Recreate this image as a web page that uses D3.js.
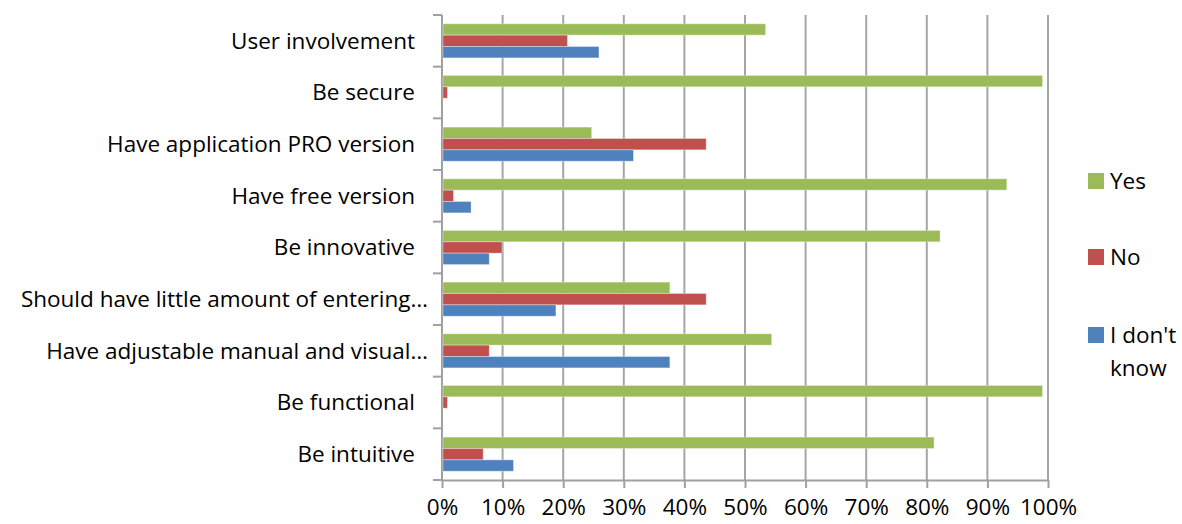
<!DOCTYPE html>
<html>
<head>
<meta charset="utf-8">
<script src="https://cdn.jsdelivr.net/npm/d3@7"></script>
<style>
  body { margin: 0; background: #fff; }
  text { font-family: "Open Sans", sans-serif; fill: #000; }
</style>
</head>
<body>
<div id="chart"></div>
<script>
// datos (top -> bottom)
const categories = [
  "User involvement",
  "Be secure",
  "Have application PRO version",
  "Have free version",
  "Be innovative",
  "Should have little amount of entering…",
  "Have adjustable manual and visual…",
  "Be functional",
  "Be intuitive"
]
const series = ["Yes", "No", "I don't know"]
const yes = [53.4, 99.1, 24.7, 93.2, 82.2, 37.6, 54.4, 99.1, 81.2]
const no = [20.7, 0.9, 43.6, 1.9, 9.9, 43.6, 7.8, 0.9, 6.8]
const dontKnow = [25.9, 0, 31.6, 4.8, 7.8, 18.8, 37.6, 0, 11.8]
const xTicks = [0, 10, 20, 30, 40, 50, 60, 70, 80, 90, 100]
const colors = ["#9bbb59", "#c0504d", "#4f81bd"]

const width = 1182
const height = 524
const margin = { top: 15, bottom: 44, left: 442, right: 134 }
const fontSize = 22.5

const svg = d3.select("#chart")
  .append("svg")
  .attr("width", width)
  .attr("height", height)

const innerW = width - margin.left - margin.right
const innerH = height - margin.top - margin.bottom

const elementGroup = svg.append("g")
  .attr("transform", `translate(${margin.left}, ${margin.top})`)

// Escalas
const x = d3.scaleLinear().domain([0, 100]).range([0, innerW])
const y0 = d3.scaleBand().domain(categories).range([0, innerH])
  .paddingInner(0.34).paddingOuter(0.17)
const y1 = d3.scaleBand().domain(series).range([0, y0.bandwidth()])

// gridlines
elementGroup.selectAll(".grid").data(xTicks.slice(1))
  .enter().append("line")
  .attr("x1", d => x(d)).attr("x2", d => x(d))
  .attr("y1", 0).attr("y2", innerH)
  .attr("stroke", "#a5a5a5").attr("stroke-width", 2)

// ejes
const xAxis = d3.axisBottom(x).tickValues(xTicks).tickFormat(d => d + "%")
  .tickSizeInner(8).tickSizeOuter(0).tickPadding(11)
const xAxisGroup = elementGroup.append("g")
  .attr("transform", `translate(0, ${innerH})`)
  .call(xAxis)
xAxisGroup.select(".domain").attr("stroke", "#a0a0a0").attr("stroke-width", 2)
xAxisGroup.selectAll(".tick line").attr("stroke", "#a0a0a0").attr("stroke-width", 2)
xAxisGroup.selectAll(".tick text").attr("font-size", fontSize).attr("font-family", "Open Sans")

// y axis: ticks at category boundaries
const step = y0.step()
const boundaries = d3.range(categories.length + 1).map(i => i * step)
elementGroup.append("line")
  .attr("x1", 0).attr("x2", 0).attr("y1", 0).attr("y2", innerH)
  .attr("stroke", "#a0a0a0").attr("stroke-width", 2)
elementGroup.selectAll(".ytick").data(boundaries)
  .enter().append("line")
  .attr("x1", -9).attr("x2", 0)
  .attr("y1", d => d).attr("y2", d => d)
  .attr("stroke", "#a0a0a0").attr("stroke-width", 2)

elementGroup.selectAll(".ylabel").data(categories)
  .enter().append("text")
  .attr("x", d => d.endsWith("…") ? -14 : -27)
  .attr("y", d => y0(d) + y0.bandwidth() / 2)
  .attr("dy", "0.35em")
  .attr("text-anchor", "end")
  .attr("font-size", fontSize)
  .text(d => d)

// barras
const rows = categories.map((c, i) => ({ cat: c, vals: [yes[i], no[i], dontKnow[i]] }))
const groups = elementGroup.selectAll(".cat").data(rows)
  .enter().append("g")
  .attr("transform", d => `translate(0, ${y0(d.cat)})`)
groups.selectAll("rect")
  .data(d => d.vals.map((v, j) => ({ s: series[j], v: v, j: j })))
  .enter().append("rect")
  .attr("x", 1)
  .attr("y", d => y1(d.s))
  .attr("height", y1.bandwidth())
  .attr("width", d => Math.max(0, x(d.v) - 1))
  .attr("fill", d => colors[d.j])
  .attr("stroke", "rgba(255,255,255,0.35)")
  .attr("stroke-width", 1)

// leyenda
const legend = svg.append("g").attr("transform", "translate(1088, 0)")
const legendY = [181, 257, 335]
series.forEach((s, i) => {
  legend.append("rect")
    .attr("x", 0).attr("y", legendY[i] - 8)
    .attr("width", 16).attr("height", 16)
    .attr("fill", colors[i])
  const t = legend.append("text")
    .attr("x", 22).attr("y", legendY[i])
    .attr("dy", "0.35em")
    .attr("font-size", fontSize)
  if (s === "I don't know") {
    t.append("tspan").attr("x", 22).text("I don't")
    t.append("tspan").attr("x", 22).attr("dy", "1.45em").text("know")
  } else {
    t.text(s)
  }
})
</script>
</body>
</html>
